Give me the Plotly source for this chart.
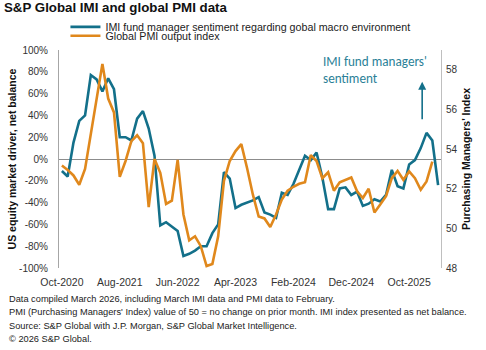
import pandas as pd
import plotly.graph_objects as go

months = list(pd.date_range("2020-10-01", periods=66, freq="MS").strftime("%b-%Y"))

imi = [-11, -16, 15, 35, 40, 77, 73, 62, 74, 64,
       20, 20, 17, 37, 44, 28, 3, -61, -58, -62,
       -66, -89, -87, -84, -80, -80, -68, -60, -12, -18,
       -45, -42, -40, -38, -35, -49, -51, -54, -31, -33,
       -23, -10, 3, -1, 6, -17, -46, -46, -27, -26,
       -33, -30, -43, -41, -37, -39, -33, -10, -25, -27,
       -5, -1, 10, 24, 17, -24]

pmi = [53.17, 52.95, 52.67, 52.2, 53.0, 54.8, 56.5, 58.3, 56.55, 55.85,
       52.6, 53.4, 54.4, 54.7, 54.3, 51.07, 53.5, 52.8, 51.23, 51.4,
       53.45, 50.7, 49.4, 49.6, 49.1, 48.1, 48.2, 49.6, 52.4, 53.4,
       53.9, 54.25, 53.03, 51.7, 50.6, 50.5, 50.07, 50.7, 51.45, 51.9,
       52.1, 52.25, 52.33, 53.7, 53.4, 52.53, 52.83, 51.9, 52.33, 52.45,
       52.57, 51.87, 51.53, 52.0, 50.8, 51.2, 51.62, 52.53, 52.9, 52.45,
       52.87, 52.53, 51.95, 52.37, 53.37]

tick_idx = [0, 10, 20, 30, 40, 50, 60]
tick_labels = [months[i] for i in tick_idx]
left_ticks = [-100, -80, -60, -40, -20, 0, 20, 40, 60, 80, 100]
right_ticks = [48, 50, 52, 54, 56, 58]

name_imi = "IMI fund manager sentiment regarding gobal macro environment"
name_pmi = "Global PMI output index"

TEAL = "#13708A"
ORANGE = "#E0881C"
FONT = "Liberation Sans, Arial, sans-serif"

fig = go.Figure()
fig.add_trace(go.Scatter(x=months, y=imi, mode="lines", name=name_imi, showlegend=True,
                         line=dict(color=TEAL, width=2.6), legend="legend"))
fig.add_trace(go.Scatter(x=months[:len(pmi)], y=pmi, mode="lines", name=name_pmi, showlegend=True,
                         line=dict(color=ORANGE, width=2.6), yaxis="y2", legend="legend2"))

footnotes = [
    "Data compiled March 2026, including March IMI data and PMI data to February.",
    "PMI (Purchasing Managers' Index) value of 50 = no change on prior month. IMI index presented as net balance.",
    "Source: S&P Global with J.P. Morgan, S&P Global Market Intelligence.",
    "© 2026 S&P Global.",
]

annotations = []
for k, t in enumerate(footnotes):
    annotations.append(dict(text=t, xref="paper", yref="paper",
                            x=-52/385.5, y=(268 - (299.5 + 13.3*k))/220,
                            xanchor="left", yanchor="middle", showarrow=False,
                            font=dict(family=FONT, size=9.25, color="#222222")))
annotations.append(dict(text="IMI fund managers'<br>sentiment", xref="paper", yref="paper",
                        x=(320-55.5)/385.5, y=(268-49)/220, xanchor="left", yanchor="top",
                        align="left", showarrow=False,
                        font=dict(family="Carlito, Lato, sans-serif", size=13.2, color="#2A7F97")))
annotations.append(dict(text="", xref="paper", yref="paper",
                        x=(422-55.5)/385.5, y=(268-80)/220, ax=0, ay=39,
                        showarrow=True, arrowhead=2, arrowsize=1, arrowwidth=1.6,
                        arrowcolor=TEAL))

fig.update_layout(
    width=486, height=350,
    margin=dict(l=55.5, r=45, t=48, b=82),
    paper_bgcolor="white", plot_bgcolor="white",
    showlegend=True,
    font=dict(family=FONT, size=10, color="#333333"),
    title=dict(text="<b>S&P Global IMI and global PMI data</b>",
               x=4/486, xanchor="left", y=1-3/350, yanchor="top",
               font=dict(family=FONT, size=13.3, color="#111111")),
    xaxis=dict(type="category", range=[-0.5, 65.5], tickvals=tick_labels, ticktext=tick_labels,
               showgrid=False, showline=False, zeroline=False, ticks="",
               ticklabelstandoff=6,
               tickfont=dict(size=10.5, color="#333333")),
    yaxis=dict(range=[-100, 100], tickvals=left_ticks,
               ticktext=[f"{v}%" for v in left_ticks],
               showgrid=False, showline=True, linecolor="#A6A6A6", linewidth=1,
               zeroline=True, zerolinecolor="#8C8C8C", zerolinewidth=1, ticks="",
               ticklabelstandoff=8,
               title=dict(text="<b>US equity market driver, net balance</b>",
                          font=dict(size=10.5, color="#111111"), standoff=0),
               tickfont=dict(size=10, color="#333333")),
    yaxis2=dict(range=[48, 59], tickvals=right_ticks, overlaying="y", side="right",
                showgrid=False, showline=True, linecolor="#BFBFBF", linewidth=1,
                zeroline=False, ticks="", ticklabelstandoff=2,
                title=dict(text="<b>Purchasing Managers' Index</b>",
                           font=dict(size=10.5, color="#111111"), standoff=6),
                tickfont=dict(size=10, color="#333333")),
    legend=dict(x=(62-55.5)/385.5, y=(268-10)/220, xanchor="left", yanchor="top",
                bgcolor="rgba(0,0,0,0)", font=dict(size=10.7, color="#222222")),
    legend2=dict(x=(62-55.5)/385.5, y=(268-19)/220, xanchor="left", yanchor="top",
                 bgcolor="rgba(0,0,0,0)", font=dict(size=10.7, color="#222222")),
    annotations=annotations,
)

fig.write_html("out.html")
